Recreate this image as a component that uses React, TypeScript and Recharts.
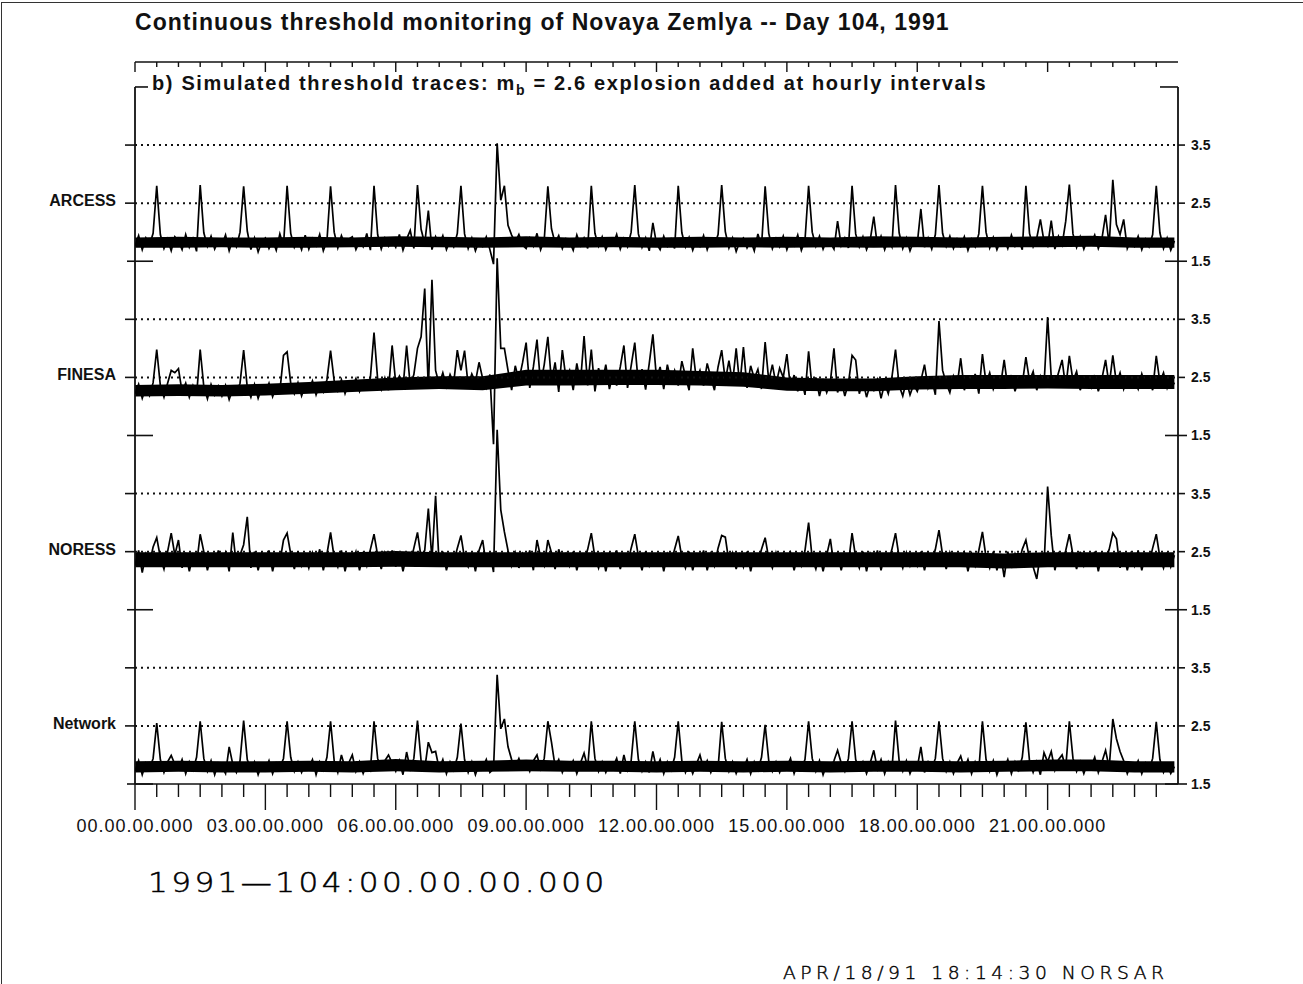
import { ComposedChart, Line, Area, XAxis, YAxis, ReferenceLine } from 'recharts'

// threshold traces in hundredths of mb, one reading every 5 minutes from 00:00
const arcess = [
  176, 194, 170, 190, 178, 198, 280, 196, 172, 188, 168, 192,
  185, 170, 196, 174, 189, 167, 281, 199, 176, 193, 171, 186,
  178, 195, 168, 188, 175, 200, 279, 202, 170, 190, 166, 184,
  190, 172, 186, 169, 197, 176, 280, 198, 174, 187, 170, 195,
  171, 189, 177, 196, 168, 185, 279, 200, 173, 194, 178, 188,
  192, 170, 184, 175, 198, 169, 280, 196, 171, 190, 176, 186,
  174, 196, 169, 188, 203, 172, 281, 205, 180, 237, 170, 192,
  178, 194, 170, 186, 175, 198, 280, 197, 172, 190, 168, 185,
  176, 192, 170, 145, 353, 255, 280, 212, 195, 183, 196, 178,
  172, 190, 176, 198, 170, 187, 279, 206, 181, 194, 172, 189,
  184, 169, 195, 177, 190, 172, 280, 198, 176, 192, 170, 186,
  178, 196, 171, 189, 175, 200, 281, 197, 174, 190, 168, 216,
  180, 170, 193, 176, 188, 172, 280, 199, 175, 191, 169, 187,
  176, 194, 170, 188, 178, 196, 281, 201, 173, 190, 167, 184,
  190, 173, 186, 168, 197, 176, 279, 198, 172, 189, 175, 193,
  170, 188, 177, 195, 169, 186, 280, 200, 176, 193, 171, 187,
  182, 171, 219, 177, 190, 173, 280, 197, 175, 192, 170, 186,
  227, 176, 193, 170, 188, 175, 281, 199, 172, 190, 168, 185,
  180, 240, 174, 190, 171, 196, 281, 198, 176, 193, 172, 188,
  176, 192, 169, 188, 175, 197, 280, 200, 173, 191, 170, 186,
  189, 172, 195, 176, 188, 170, 280, 198, 175, 190, 222, 184,
  176, 220, 171, 193, 178, 219, 282, 197, 174, 192, 171, 188,
  181, 195, 172, 189, 230, 178, 290, 213, 196, 222, 172, 187,
  176, 193, 170, 188, 175, 196, 280, 199, 172, 190, 169, 185,
]

const finesa = [
  222, 238, 214, 233, 219, 241, 298, 236, 216, 240, 262, 258,
  265, 225, 240, 216, 236, 219, 298, 234, 213, 238, 220, 235,
  218, 236, 212, 230, 222, 240, 297, 233, 216, 238, 214, 232,
  224, 240, 217, 235, 226, 288, 294, 240, 222, 241, 218, 236,
  229, 244, 220, 238, 225, 246, 296, 244, 227, 246, 222, 240,
  233, 248, 226, 242, 230, 250, 327, 247, 229, 249, 228, 305,
  240, 252, 232, 305, 236, 255, 300, 320, 403, 230, 418, 262,
  238, 258, 234, 255, 240, 297, 262, 296, 236, 256, 242, 276,
  248, 232, 255, 135, 455, 300, 300, 262, 228, 270, 245, 275,
  310, 232, 268, 315, 238, 272, 320, 242, 276, 225, 297, 248,
  262, 228, 274, 240, 321, 236, 298, 226, 266, 240, 272, 230,
  258, 236, 268, 305, 232, 270, 310, 238, 264, 229, 274, 324,
  248, 268, 230, 272, 244, 262, 236, 278, 252, 228, 300, 246,
  262, 236, 274, 250, 228, 268, 297, 244, 279, 240, 300, 236,
  302, 232, 270, 248, 264, 230, 311, 244, 272, 238, 266, 250,
  290, 232, 254, 226, 248, 220, 295, 230, 250, 218, 244, 224,
  242, 300, 224, 246, 218, 240, 288, 280, 222, 244, 216, 238,
  228, 246, 214, 240, 222, 250, 298, 236, 218, 244, 220, 238,
  226, 244, 272, 232, 248, 220, 347, 262, 240, 224, 252, 236,
  283, 228, 250, 236, 256, 222, 290, 240, 258, 230, 246, 236,
  280, 232, 254, 226, 248, 238, 285, 244, 260, 228, 252, 236,
  354, 250, 236, 258, 280, 232, 287, 244, 260, 228, 248, 240,
  232, 254, 226, 248, 280, 236, 288, 240, 258, 230, 250, 236,
  244, 230, 256, 236, 250, 228, 287, 242, 258, 232, 250, 238,
]

const noress = [
  226, 252, 214, 246, 230, 258, 274, 240, 220, 250, 282, 244,
  270, 222, 248, 216, 244, 228, 280, 250, 218, 246, 224, 252,
  230, 248, 216, 283, 226, 244, 262, 310, 222, 250, 218, 246,
  228, 252, 216, 244, 232, 270, 282, 246, 220, 250, 226, 244,
  222, 248, 230, 254, 218, 246, 283, 240, 224, 252, 216, 244,
  232, 250, 218, 246, 226, 254, 280, 244, 220, 248, 230, 252,
  224, 248, 216, 244, 230, 256, 283, 240, 252, 324, 236, 346,
  226, 250, 218, 244, 232, 256, 278, 238, 224, 248, 216, 252,
  270, 226, 248, 215, 460, 322, 284, 252, 226, 248, 222, 246,
  230, 252, 218, 270, 240, 226, 270, 248, 220, 254, 232, 246,
  226, 250, 218, 244, 232, 254, 282, 240, 222, 248, 216, 246,
  232, 252, 220, 244, 228, 256, 280, 242, 218, 250, 226, 244,
  228, 248, 216, 246, 232, 254, 277, 240, 222, 250, 218, 244,
  230, 252, 218, 246, 226, 256, 278, 275, 232, 248, 220, 244,
  224, 250, 216, 244, 230, 254, 274, 238, 222, 248, 228, 246,
  232, 248, 218, 244, 226, 252, 300, 238, 220, 246, 216, 244,
  272, 226, 248, 218, 244, 230, 282, 240, 222, 250, 216, 246,
  228, 252, 218, 244, 232, 254, 282, 240, 222, 248, 226, 244,
  226, 250, 218, 246, 230, 254, 287, 244, 220, 248, 228, 244,
  232, 248, 216, 246, 226, 252, 284, 240, 222, 250, 218, 246,
  206, 250, 222, 246, 228, 254, 270, 238, 224, 203, 246, 226,
  362, 278, 218, 246, 230, 252, 280, 244, 220, 250, 226, 244,
  228, 250, 216, 246, 232, 254, 282, 272, 222, 248, 218, 246,
  226, 252, 218, 244, 230, 256, 280, 240, 222, 248, 224, 244,
]

const network = [
  172, 190, 166, 186, 176, 194, 255, 192, 170, 188, 199, 184,
  176, 192, 168, 188, 174, 196, 258, 194, 172, 190, 166, 186,
  180, 168, 214, 184, 170, 190, 259, 192, 174, 188, 166, 184,
  174, 190, 168, 186, 178, 194, 258, 196, 172, 188, 170, 184,
  178, 192, 166, 188, 174, 196, 258, 190, 170, 200, 178, 186,
  200, 172, 188, 168, 184, 174, 258, 194, 176, 190, 200, 186,
  172, 190, 166, 205, 176, 194, 259, 190, 176, 222, 204, 206,
  176, 192, 168, 188, 174, 196, 254, 192, 170, 188, 166, 184,
  178, 192, 170, 176, 338, 245, 262, 214, 192, 180, 194, 176,
  188, 172, 190, 200, 176, 194, 258, 222, 180, 192, 170, 186,
  176, 190, 168, 186, 203, 178, 258, 194, 172, 188, 170, 184,
  180, 194, 168, 200, 174, 190, 258, 192, 172, 188, 170, 206,
  176, 192, 168, 188, 174, 196, 258, 190, 170, 186, 168, 184,
  200, 176, 190, 170, 186, 178, 257, 194, 172, 188, 168, 184,
  176, 192, 168, 188, 174, 196, 252, 190, 172, 188, 170, 186,
  180, 194, 168, 186, 176, 192, 258, 194, 172, 190, 166, 184,
  176, 190, 208, 186, 172, 194, 258, 192, 174, 188, 168, 186,
  208, 176, 192, 168, 188, 174, 259, 190, 172, 190, 168, 184,
  178, 214, 170, 188, 176, 194, 258, 194, 172, 188, 168, 186,
  198, 176, 192, 168, 188, 174, 258, 192, 172, 190, 166, 184,
  176, 192, 168, 188, 174, 196, 256, 190, 170, 188, 166, 204,
  188, 206, 174, 192, 200, 178, 258, 194, 172, 188, 168, 186,
  180, 196, 170, 188, 208, 178, 262, 228, 206, 190, 168, 184,
  176, 190, 168, 186, 174, 194, 257, 192, 170, 184, 168, 180,
]

// dense noise core of each trace (hundredths of mb), read hourly 00:00 .. 24:00
const arcessLo = [173, 173, 174, 173, 173, 174, 175, 174, 173, 174, 173, 174, 173, 173, 174, 173, 174, 173, 174, 173, 174, 174, 175, 173, 173]
const arcessHi = [191, 192, 191, 191, 192, 191, 193, 192, 191, 193, 191, 192, 191, 192, 191, 192, 191, 193, 192, 191, 192, 193, 194, 191, 191]
const finesaLo = [217, 218, 217, 219, 222, 225, 228, 230, 228, 236, 236, 237, 237, 236, 234, 227, 226, 226, 229, 230, 230, 231, 230, 230, 230]
const finesaHi = [237, 238, 237, 239, 242, 246, 250, 252, 252, 263, 263, 263, 263, 261, 259, 250, 248, 248, 252, 254, 254, 254, 254, 254, 254]
const noressLo = [223, 223, 223, 223, 223, 223, 224, 223, 223, 223, 223, 223, 223, 223, 223, 223, 223, 223, 223, 223, 221, 223, 223, 223, 223]
const noressHi = [249, 249, 249, 249, 249, 249, 251, 249, 249, 249, 249, 249, 249, 249, 249, 249, 249, 249, 249, 249, 247, 249, 249, 249, 249]
const networkLo = [170, 171, 170, 170, 171, 170, 172, 170, 171, 172, 171, 171, 170, 171, 170, 171, 170, 171, 171, 170, 171, 172, 172, 170, 170]
const networkHi = [189, 190, 189, 189, 190, 189, 193, 189, 190, 192, 190, 190, 189, 190, 189, 190, 189, 190, 190, 189, 190, 192, 192, 189, 189]

const stations = ['ARCESS', 'FINESA', 'NORESS', 'Network']
const traces = [arcess, finesa, noress, network]
const bandsLo = [arcessLo, finesaLo, noressLo, networkLo]
const bandsHi = [arcessHi, finesaHi, noressHi, networkHi]
const keys = ['a', 'f', 'n', 'w']
const timeLabels = ['00.00.00.000', '03.00.00.000', '06.00.00.000', '09.00.00.000',
  '12.00.00.000', '15.00.00.000', '18.00.00.000', '21.00.00.000']
const levelLabels = ['1.5', '2.5', '3.5']

const halfHours = Array.from({ length: 48 }, (_, i) => i / 2)
const levelTicks = [0, 1, 2, 3, 4, 5, 6, 7, 8, 9, 10, 11, 12]
const dottedLevels = [1, 2, 4, 5, 7, 8, 10, 11]
const Y_MAX = 12.43 // 4 panels of 3 mb units + room for the top time axis

// each station gets its own 3-unit band, ARCESS on top
const shift = (p: number, v: number) => (3 - p) * 3 + v / 100 - 1.5
const data = arcess.map((_, i) => {
  const row: any = { t: (i * 5) / 60 }
  traces.forEach((tr, p) => {
    row[keys[p]] = shift(p, tr[i])
  })
  return row
})
// hourly core values sit on the full-hour rows (the 24:00 one on the last row)
arcessLo.forEach((_, h) => {
  const row = data[Math.min(h * 12, data.length - 1)]
  keys.forEach((k, p) => {
    row[k + 'Band'] = [shift(p, bandsLo[p][h]), shift(p, bandsHi[p][h])]
  })
})

const sans = '"Liberation Sans", Arial, Helvetica, sans-serif'
const thin = '"DejaVu Sans", sans-serif'
const ink = '#111'

const TopTick = (props: any) => {
  const { x, y, payload } = props
  const long = payload.value % 3 === 0
  return <line x1={x} y1={y} x2={x} y2={y + (long ? 10 : 5)} stroke={ink} strokeWidth={1.4} />
}

const BottomTick = (props: any) => {
  const { x, y, payload } = props
  const v = payload.value
  const long = v % 3 === 0
  return (
    <g>
      <line x1={x} y1={y} x2={x} y2={y + (long ? 26 : 13)} stroke={ink} strokeWidth={1.4} />
      {long && (
        <text x={x} y={y + 48} textAnchor="middle" fontFamily={sans} fontSize={18}
          letterSpacing={1} fill={ink}>
          {timeLabels[v / 3]}
        </text>
      )}
    </g>
  )
}

const LeftTick = (props: any) => {
  const { x, y, payload } = props
  const v = payload.value
  const m = v % 3
  if (v === 12) return <line x1={x} y1={y} x2={x + 13} y2={y} stroke={ink} strokeWidth={1.6} />
  if (m === 0) return <line x1={x - 8} y1={y} x2={x + 18} y2={y} stroke={ink} strokeWidth={1.6} />
  return (
    <g>
      <line x1={x - 10} y1={y} x2={x} y2={y} stroke={ink} strokeWidth={1.6} />
      {m === 1 && (
        <text x={x - 19} y={y + 3} textAnchor="end" fontFamily={sans} fontSize={16}
          fontWeight="bold" fill={ink}>
          {stations[3 - Math.floor(v / 3)]}
        </text>
      )}
    </g>
  )
}

const RightTick = (props: any) => {
  const { x, y, payload } = props
  const v = payload.value
  const m = v % 3
  if (v === 12) return <line x1={x - 18} y1={y} x2={x} y2={y} stroke={ink} strokeWidth={1.6} />
  return (
    <g>
      <line x1={m === 0 ? x - 13 : x} y1={y} x2={x + (m === 0 ? 9 : 7)} y2={y}
        stroke={ink} strokeWidth={1.6} />
      <text x={x + 13} y={y + 5} fontFamily={sans} fontSize={14} fontWeight="bold" fill={ink}>
        {levelLabels[m]}
      </text>
    </g>
  )
}

export default function App() {
  return (
    <div style={{ position: 'absolute', left: 0, top: 0, width: 1303, height: 984, background: '#fff' }}>
      <div style={{ position: 'absolute', left: 1, top: 2, width: 1302, height: 982,
        borderTop: '1.5px solid #333', borderLeft: '1.5px solid #333' }} />
      <ComposedChart width={1303} height={984} data={data}
        margin={{ top: 52, right: 65, bottom: 140, left: 35 }}>
        <XAxis xAxisId="top" orientation="top" dataKey="t" type="number" domain={[0, 24]}
          ticks={halfHours} interval={0} height={10} tickSize={0} tickMargin={0} tickLine={false}
          allowDataOverflow axisLine={{ stroke: ink, strokeWidth: 1.4 }} tick={<TopTick />} />
        <XAxis xAxisId="b" dataKey="t" type="number" domain={[0, 24]} ticks={halfHours}
          interval={0} height={60} tickSize={0} tickMargin={0} tickLine={false} allowDataOverflow
          axisLine={{ stroke: ink, strokeWidth: 1.6 }} tick={<BottomTick />} />
        <YAxis yAxisId="l" type="number" domain={[0, Y_MAX]} ticks={levelTicks} interval={0}
          width={100} tickSize={0} tickMargin={0} tickLine={false} axisLine={false}
          tick={<LeftTick />} allowDataOverflow />
        <YAxis yAxisId="r" orientation="right" type="number" domain={[0, Y_MAX]} ticks={levelTicks}
          interval={0} width={60} tickSize={0} tickMargin={0} tickLine={false} axisLine={false}
          tick={<RightTick />} allowDataOverflow />
        {dottedLevels.map((lv) => (
          <ReferenceLine key={lv} xAxisId="b" yAxisId="l" y={lv} stroke={ink} strokeWidth={2}
            strokeDasharray="2 4" />
        ))}
        <ReferenceLine xAxisId="b" yAxisId="l" segment={[{ x: 0, y: 0 }, { x: 0, y: 12 }]}
          stroke={ink} strokeWidth={1.8} ifOverflow="visible" />
        <ReferenceLine xAxisId="b" yAxisId="l" segment={[{ x: 24, y: 0 }, { x: 24, y: 12 }]}
          stroke={ink} strokeWidth={1.8} ifOverflow="visible" />
        {keys.map((k) => (
          <Area key={k + 'Band'} xAxisId="b" yAxisId="l" dataKey={k + 'Band'} type="linear"
            connectNulls stroke="none" fill="#000" fillOpacity={1} dot={false}
            activeDot={false} isAnimationActive={false} />
        ))}
        {keys.map((k) => (
          <Line key={k} xAxisId="b" yAxisId="l" dataKey={k} type="linear" stroke="#000"
            strokeWidth={1.7} strokeLinejoin="miter" dot={false} isAnimationActive={false} />
        ))}
      </ComposedChart>
      <div style={{ position: 'absolute', left: 135, top: 9, fontFamily: sans, fontSize: 23,
        fontWeight: 'bold', letterSpacing: 1.05, lineHeight: '26px', color: ink, whiteSpace: 'nowrap' }}>
        Continuous threshold monitoring of Novaya Zemlya -- Day 104, 1991
      </div>
      <div style={{ position: 'absolute', left: 152, top: 71, fontFamily: sans, fontSize: 20,
        fontWeight: 'bold', letterSpacing: 1.65, lineHeight: '24px', color: ink, whiteSpace: 'nowrap' }}>
        b) Simulated threshold traces: m<sub style={{ fontSize: 14 }}>b</sub> = 2.6 explosion added at hourly intervals
      </div>
      <div style={{ position: 'absolute', left: 148, top: 867, fontFamily: thin, fontWeight: 200,
        fontSize: 27, letterSpacing: 3, lineHeight: '32px', color: '#000', whiteSpace: 'nowrap',
        WebkitTextStroke: '0.5px #000', transform: 'scaleX(1.15)', transformOrigin: 'left center' }}>
        1991—104:00.00.00.000
      </div>
      <div style={{ position: 'absolute', left: 783, top: 962, fontFamily: thin, fontWeight: 200,
        fontSize: 17, letterSpacing: 4.1, lineHeight: '22px', color: '#000', whiteSpace: 'nowrap',
        WebkitTextStroke: '0.4px #000', transform: 'scaleX(1.1)', transformOrigin: 'left center' }}>
        APR/18/91 18:14:30 NORSAR
      </div>
    </div>
  )
}
